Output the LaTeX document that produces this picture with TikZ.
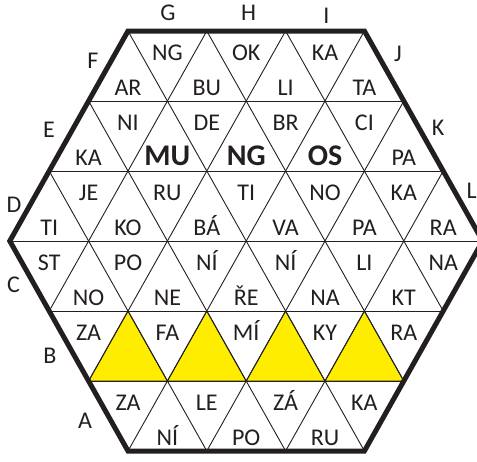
\documentclass[tikz,border=0pt]{standalone}
\usepackage{fontspec}
\setmainfont{Carlito}
\definecolor{hexyellow}{RGB}{255,237,0}
\definecolor{ink}{RGB}{35,31,32}
\begin{document}
\begin{tikzpicture}[x=1pt,y=-1pt,
  lbl/.style={anchor=base,inner sep=0pt,font=\fontsize{24}{28}\selectfont,text=ink},
  big/.style={anchor=base,inner sep=0pt,font=\fontsize{30}{34}\selectfont\bfseries,text=ink},
  side/.style={anchor=base,inner sep=0pt,font=\fontsize{24}{28}\selectfont,text=ink},
  gridline/.style={line width=0.9pt,draw=ink},
  rim/.style={line width=5pt,draw=ink,line join=miter},
  yel/.style={fill=hexyellow,draw=ink,line width=0.9pt}]
\useasboundingbox (0,0) rectangle (477,461);
% hexagon corners
\coordinate (h1) at (128,31);
\coordinate (h2) at (364.4,31);
\coordinate (h3) at (482.6,241);
\coordinate (h4) at (364.4,451);
\coordinate (h5) at (128,451);
\coordinate (h6) at (9.8,241);
% yellow triangles
\foreach \i in {0,1,2,3}{
  \path[yel] (128+78.8*\i,311) -- (167.4+78.8*\i,381) -- (88.6+78.8*\i,381) -- cycle;
}
% grid
\begin{scope}
  \clip (h1) -- (h2) -- (h3) -- (h4) -- (h5) -- (h6) -- cycle;
  \foreach \r in {1,...,5}{
    \draw[gridline] (0,31+70*\r) -- (500,31+70*\r);
  }
  \foreach \k in {-4,...,7}{
    \draw[gridline] (128+78.8*\k,31) -- (128+78.8*\k-236.4,451);
    \draw[gridline] (128+78.8*\k,31) -- (128+78.8*\k+236.4,451);
  }
\end{scope}
\draw[rim] (h1) -- (h2) -- (h3) -- (h4) -- (h5) -- (h6) -- cycle;
% row 0
\node[lbl] (r0a) at (128,95) {AR};
\node[lbl] (r0b) at (167.4,60) {NG};
\node[lbl] (r0c) at (206.8,95) {BU};
\node[lbl] (r0d) at (246.2,60) {OK};
\node[lbl] (r0e) at (285.6,95) {LI};
\node[lbl] (r0f) at (325,60) {KA};
\node[lbl] (r0g) at (364.4,95) {TA};
% row 1
\node[lbl] (r1a) at (88.6,165) {KA};
\node[lbl] (r1b) at (128,130) {NI};
\node[big] (r1c) at (167.4,165) {MU};
\node[lbl] (r1d) at (206.8,130) {DE};
\node[big] (r1e) at (246.2,165) {NG};
\node[lbl] (r1f) at (285.6,130) {BR};
\node[big] (r1g) at (325,165) {OS};
\node[lbl] (r1h) at (364.4,130) {CI};
\node[lbl] (r1i) at (403.8,165) {PA};
% row 2
\node[lbl] (r2a) at (49.2,235) {TI};
\node[lbl] (r2b) at (88.6,200) {JE};
\node[lbl] (r2c) at (128,235) {KO};
\node[lbl] (r2d) at (167.4,200) {RU};
\node[lbl] (r2e) at (206.8,235) {BÁ};
\node[lbl] (r2f) at (246.2,200) {TI};
\node[lbl] (r2g) at (285.6,235) {VA};
\node[lbl] (r2h) at (325,200) {NO};
\node[lbl] (r2i) at (364.4,235) {PA};
\node[lbl] (r2j) at (403.8,200) {KA};
\node[lbl] (r2k) at (443.2,235) {RA};
% row 3
\node[lbl] (r3a) at (49.2,270) {ST};
\node[lbl] (r3b) at (88.6,305) {NO};
\node[lbl] (r3c) at (128,270) {PO};
\node[lbl] (r3d) at (167.4,305) {NE};
\node[lbl] (r3e) at (206.8,270) {NÍ};
\node[lbl] (r3f) at (246.2,305) {ŘE};
\node[lbl] (r3g) at (285.6,270) {NÍ};
\node[lbl] (r3h) at (325,305) {NA};
\node[lbl] (r3i) at (364.4,270) {LI};
\node[lbl] (r3j) at (403.8,305) {KT};
\node[lbl] (r3k) at (443.2,270) {NA};
% row 4
\node[lbl] (r4a) at (88.6,340) {ZA};
\node[lbl] (r4b) at (167.4,340) {FA};
\node[lbl] (r4c) at (246.2,340) {MÍ};
\node[lbl] (r4d) at (325,340) {KY};
\node[lbl] (r4e) at (403.8,340) {RA};
% row 5
\node[lbl] (r5a) at (128,410) {ZA};
\node[lbl] (r5b) at (167.4,445) {NÍ};
\node[lbl] (r5c) at (206.8,410) {LE};
\node[lbl] (r5d) at (246.2,445) {PO};
\node[lbl] (r5e) at (285.6,410) {ZÁ};
\node[lbl] (r5f) at (325,445) {RU};
\node[lbl] (r5g) at (364.4,410) {KA};
% side letters
\node[side] (sG) at (168,20) {G};
\node[side] (sH) at (248.5,20) {H};
\node[side] (sI) at (326.5,23) {I};
\node[side] (sF) at (93,68) {F};
\node[side] (sE) at (49,137) {E};
\node[side] (sD) at (14,212) {D};
\node[side] (sC) at (13.5,292) {C};
\node[side] (sB) at (50,363) {B};
\node[side] (sA) at (85,428) {A};
\node[side] (sJ) at (398,61) {J};
\node[side] (sK) at (438,135) {K};
\node[side,anchor=base west] (sL) at (466.5,198) {L};
\end{tikzpicture}
\end{document}
